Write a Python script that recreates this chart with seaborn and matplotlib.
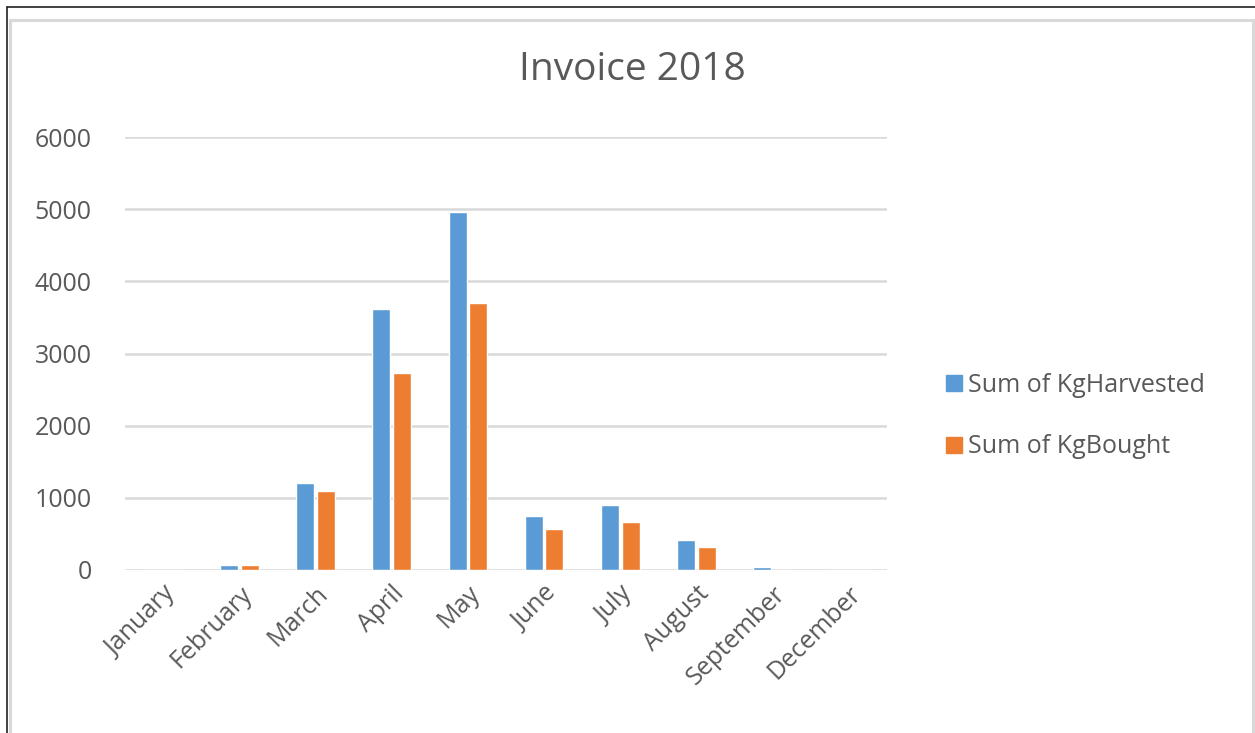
import matplotlib
matplotlib.use("Agg")
import matplotlib.pyplot as plt
import pandas as pd
import seaborn as sns
from matplotlib.patches import Rectangle
from matplotlib.lines import Line2D

months = ["January", "February", "March", "April", "May", "June",
          "July", "August", "September", "December"]
kg_harvested = [0, 70, 1210, 3615, 4960, 755, 895, 410, 40, 0]
kg_bought = [0, 70, 1100, 2725, 3705, 570, 665, 315, 0, 0]
series_names = ["Sum of KgHarvested", "Sum of KgBought"]

df = pd.DataFrame({
    "month": months * 2,
    "value": kg_harvested + kg_bought,
    "series": [series_names[0]] * len(months) + [series_names[1]] * len(months),
})

sns.set_style("white")
plt.rcParams["font.family"] = ["Open Sans", "DejaVu Sans"]
text_col = "#595959"
colors = ["#5B9BD5", "#ED7D31"]

fig = plt.figure(figsize=(12.55, 7.33), dpi=100)
ax = fig.add_axes([0.0996, 0.2224, 0.6072, 0.5906])

sns.barplot(data=df, x="month", y="value", hue="series", order=months,
            hue_order=series_names, palette=colors, saturation=1,
            width=0.54, gap=0.12, ax=ax, legend=True)

ax.set_ylim(0, 6000)
ax.set_xlim(-0.5, len(months) - 0.5)
ax.set_yticks(range(0, 6001, 1000))
ax.yaxis.grid(True, color="#d9d9d9", linewidth=1.8)
ax.set_axisbelow(True)
ax.set_xlabel("")
ax.set_ylabel("")
sns.despine(ax=ax, left=True, bottom=True, top=True, right=True)
ax.tick_params(axis="both", length=0, labelsize=18, labelcolor=text_col)
ax.tick_params(axis="y", pad=24)
ax.tick_params(axis="x", pad=8)
plt.setp(ax.get_xticklabels(), rotation=45, ha="right", rotation_mode="anchor")

# legend on the right, square markers
handles = [Line2D([], [], marker="s", linestyle="", markersize=12,
                  markerfacecolor=c, markeredgecolor=c) for c in colors]
ax.legend(handles, series_names, loc="center left", bbox_to_anchor=(1.045, 0.355),
          frameon=False, fontsize=18, labelcolor=text_col, handletextpad=0.15,
          labelspacing=1.45, handlelength=0.8)

fig.text(0.504, 0.905, "Invoice 2018", ha="center", va="center",
         fontsize=28, color=text_col)

# window frame
fig.patches.append(Rectangle((10 / 1255, -0.01), 1243 / 1255, 723 / 733 - 0.003,
                             transform=fig.transFigure, fill=False,
                             edgecolor="#d9d9d9", linewidth=2.2))
fig.lines.append(Line2D([7 / 1255, 1.0], [1 - 7 / 733, 1 - 7 / 733],
                        transform=fig.transFigure, color="#222222", linewidth=1.2))
fig.lines.append(Line2D([7 / 1255, 7 / 1255], [0, 1 - 7 / 733],
                        transform=fig.transFigure, color="#222222", linewidth=1.2))

fig.savefig("out.png", dpi=100)
